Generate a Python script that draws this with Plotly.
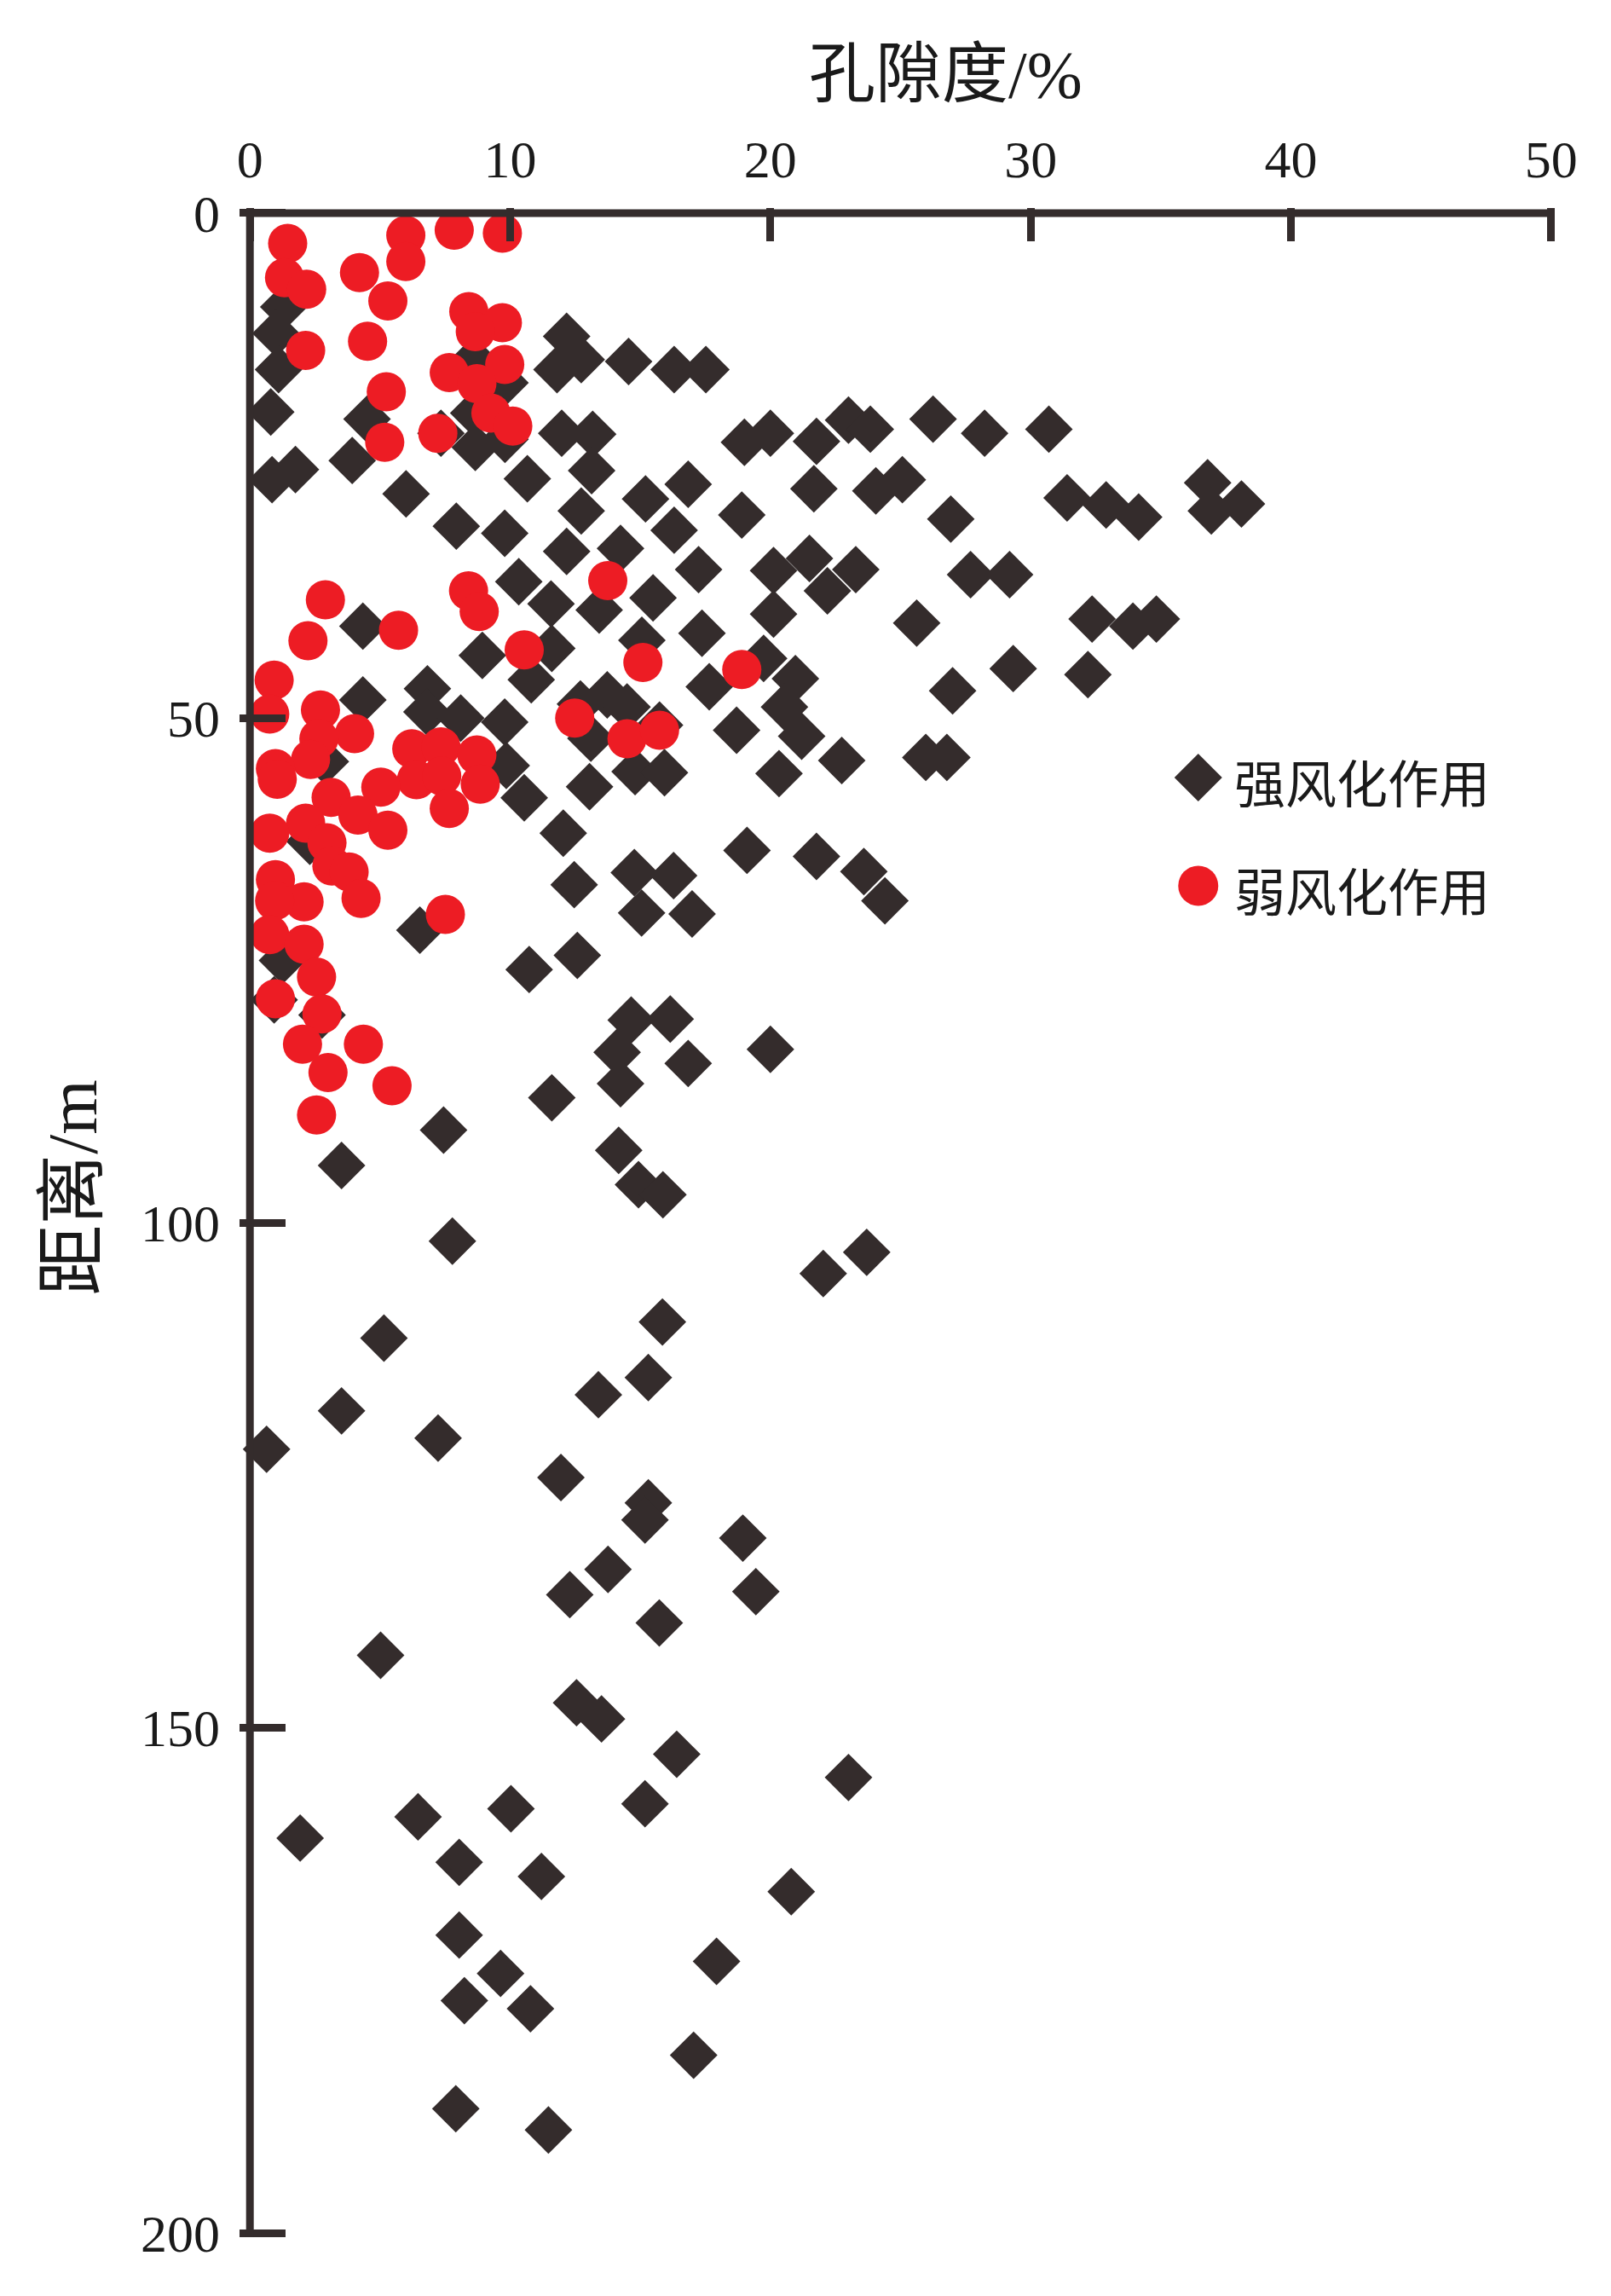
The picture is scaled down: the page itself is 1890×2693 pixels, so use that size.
import plotly.graph_objects as go

# ---- data: 强风化作用 (strong weathering) ----
strong_x = [1.3, 1.0, 1.1, 0.8, 4.5, 0.85, 1.75, 3.93, 6.0, 8.6, 9.8, 8.6, 7.34, 8.66, 9.8,
            12.17, 11.8, 12.73, 14.55, 16.3, 17.52, 11.98, 13.17, 13.13, 10.66, 19.0, 12.73, 15.2,
            16.84, 18.9, 7.93, 9.79, 12.17, 14.24, 16.3, 17.24, 10.33, 11.57, 13.42, 15.49, 17.37,
            4.34, 8.93, 11.6, 15.06, 10.81, 17.65, 6.82, 4.34, 13.73, 12.7, 14.49, 6.8, 8.1, 9.79,
            15.74, 13.1, 2.9, 9.85, 10.54, 13.05, 14.8, 15.93, 18.7, 12.04, 19.1, 12.46, 14.77,
            16.28, 15.05, 16.99, 6.53, 1.25, 10.73, 12.58, 0.93, 2.77, 14.65, 16.15, 14.11, 16.84,
            14.24, 11.6, 7.44, 3.52, 14.17, 14.93, 15.87, 2.3,
            20.0, 21.77, 23.0, 23.84, 26.25, 28.23, 30.7, 21.67, 24.05, 25.07, 26.93, 31.4, 32.9,
            34.15, 36.8, 36.94, 38.1, 20.12, 21.5, 23.28, 22.19, 20.12, 27.69, 29.19, 25.62, 32.36,
            33.93, 34.83, 19.74, 20.96, 20.54, 27.0, 29.33, 32.2,
            21.2, 20.33, 22.74, 25.97, 26.78, 21.77, 23.59, 24.4, 20.0,
            7.78, 22.03, 23.7, 15.85, 5.15, 15.31, 13.39, 3.52, 0.64, 7.23, 11.95, 15.31, 15.18,
            18.94, 13.76, 12.29, 19.44, 15.73, 5.02, 12.55, 13.51, 16.4, 23.0, 15.18, 6.46, 10.03,
            1.93, 8.04, 11.2, 20.8, 8.04, 17.93, 9.63, 8.24, 10.78, 17.05, 7.91, 11.47]
strong_y = [9.3, 11.9, 15.5, 19.7, 20.4, 26.4, 25.4, 24.5, 27.8, 14.5, 16.8, 19.8, 21.8, 23.2, 22.4,
            12.2, 15.5, 14.5, 14.7, 15.5, 15.5, 21.8, 21.9, 25.5, 26.3, 22.7, 29.5, 28.3,
            26.85, 29.9, 31.0, 31.7, 33.5, 33.2, 31.4, 35.3, 36.5, 38.7, 39.3, 38.1, 41.6,
            40.9, 43.8, 43.1, 42.3, 46.2, 46.9, 47.1, 48.2, 47.7, 48.6, 48.9, 49.4, 50.0, 50.4,
            50.7, 52.0, 54.3, 54.7, 57.9, 56.8, 55.3, 55.4, 51.2, 61.4, 63.1, 66.5, 65.3,
            65.6, 69.3, 69.4, 71.0, 74.0, 74.9, 73.5, 77.9, 79.4, 79.9, 79.8, 83.1, 84.2,
            86.2, 87.6, 90.8, 94.3, 92.8, 96.2, 97.2, 62.2,
            21.8, 22.6, 20.5, 21.4, 20.4, 21.8, 21.4, 27.3, 27.5, 26.4, 30.3, 28.2, 28.9,
            30.1, 26.7, 29.5, 28.8, 35.4, 34.2, 35.3, 37.4, 39.7, 35.8, 35.8, 40.6, 40.2,
            40.9, 40.2, 44.1, 46.1, 48.9, 47.3, 45.1, 45.7,
            51.8, 55.5, 54.2, 53.9, 53.9, 63.7, 65.2, 68.1, 82.8,
            101.8, 105.0, 102.9, 109.8, 111.4, 115.3, 117.0, 118.6, 122.4, 121.3, 125.2, 127.7, 129.4,
            131.2, 134.3, 136.8, 136.5, 139.6, 142.8, 147.5, 149.1, 152.6, 154.9, 157.5, 158.8, 158.0,
            160.9, 163.3, 164.7, 166.2, 170.5, 173.1, 174.3, 177.0, 177.8, 182.4, 187.7, 189.8]

# ---- data: 弱风化作用 (weak weathering) ----
weak_x = [1.45, 1.33, 2.18, 4.21, 5.99, 5.99, 7.85, 9.7, 5.3, 8.41, 9.7, 8.66, 2.14, 4.52, 7.66,
          9.79, 8.72, 5.24, 9.26, 10.1, 7.22, 5.18, 2.9, 8.4, 8.81, 13.75, 5.71, 2.23, 10.54, 15.1,
          18.9, 0.93, 0.76, 2.71, 4.02, 2.65, 2.33, 0.98, 1.05, 6.22, 7.34, 8.72, 6.4, 7.37, 8.85,
          7.66, 5.03, 3.12, 4.15, 5.3, 2.14, 0.76, 2.96, 3.15, 3.81, 0.98, 2.08, 0.95, 4.27, 0.76,
          2.08, 2.56, 0.98, 2.77, 2.02, 4.36, 3.0, 5.46, 2.56, 7.51, 12.48, 14.49, 15.74]
weak_y = [3.0, 6.4, 7.55, 5.9, 2.2, 4.8, 1.7, 2.0, 8.7, 9.75, 10.85, 11.75, 13.6, 12.7, 15.8,
          15.0, 16.9, 17.7, 19.8, 21.1, 21.8, 22.7, 38.3, 37.4, 39.45, 36.4, 41.3, 42.35, 43.25, 44.5,
          45.2, 46.25, 49.6, 49.2, 51.55, 52.05, 54.1, 55.0, 56.05, 53.05, 52.85, 53.65, 56.1, 55.75, 56.55,
          58.95, 56.85, 57.85, 59.6, 61.1, 60.4, 61.4, 62.35, 64.65, 65.25, 66.0, 68.2, 68.1, 67.85, 71.45,
          72.4, 75.65, 77.8, 79.3, 82.3, 82.3, 85.1, 86.4, 89.3, 69.45, 50.0, 52.05, 51.2]

x_ticks = [0, 10, 20, 30, 40, 50]
y_ticks = [0, 50, 100, 150, 200]
series_names = ["强风化作用", "弱风化作用"]
x_title = "孔隙度/%"
y_title = "距离/m"

DARK = "#342c2c"
RED = "#ed1c24"
TXT = "#1a1a1a"
SERIF = "Liberation Serif, Times New Roman, Noto Sans CJK SC, serif"
CJK = "Liberation Serif, Noto Sans CJK SC, serif"

W, H = 1890, 2693
PAGE_OFF = 8  # browser default body margin
# page-pixel position of data origin and scales
X0PX, Y0PX = 293.5, 250.0
XS = (1820.0 - X0PX) / 50.0
YS = (2619.0 - Y0PX) / 200.0
XR = [-0.4, 50.4]
YR = [200.5, -0.5]
left_px = X0PX + XR[0] * XS
right_px = X0PX + XR[1] * XS
top_px = Y0PX + YR[1] * YS
bot_px = Y0PX + YR[0] * YS
L = left_px - PAGE_OFF
T = top_px - PAGE_OFF
R = W - (right_px - PAGE_OFF)
B = H - (bot_px - PAGE_OFF)
pw, ph = right_px - left_px, bot_px - top_px

def px2paper(px, py):
    return (px - left_px) / pw, (bot_px - py) / ph

fig = go.Figure()
fig.add_trace(go.Scatter(x=strong_x, y=strong_y, mode="markers", name=series_names[0],
                         marker=dict(symbol="diamond", size=43, color=DARK, line=dict(width=0)),
                         cliponaxis=False, showlegend=False))
fig.add_trace(go.Scatter(x=weak_x, y=weak_y, mode="markers", name=series_names[1],
                         marker=dict(symbol="circle", size=46, color=RED, line=dict(width=0)),
                         cliponaxis=False, showlegend=False))

axis_common = dict(showline=False, ticks="inside", tickwidth=9, tickcolor=DARK,
                   showgrid=False, zeroline=False,
                   tickfont=dict(family=SERIF, size=62, color=TXT))
fig.update_xaxes(range=XR, side="top", tickvals=x_ticks, ticklen=round(283 - top_px),
                 ticklabelstandoff=23, **axis_common)
fig.update_yaxes(range=YR, tickvals=y_ticks, ticklen=round(335 - left_px),
                 ticklabelstandoff=22, **axis_common)

# axis lines (drawn at data origin, like the original)
fig.add_shape(type="line", xref="x", yref="y", x0=0, x1=0, y0=-4.5 / YS, y1=200.4,
              line=dict(color=DARK, width=9))
fig.add_shape(type="line", xref="x", yref="y", x0=-4.5 / XS, x1=50.1, y0=0, y1=0,
              line=dict(color=DARK, width=9))

# axis titles
tx, ty = px2paper(1110, 88)
fig.add_annotation(x=tx, y=ty, xref="paper", yref="paper", text=x_title, showarrow=False,
                   font=dict(family=CJK, size=78, color=TXT), xanchor="center", yanchor="middle")
tx, ty = px2paper(85, 1393)
fig.add_annotation(x=tx, y=ty, xref="paper", yref="paper", text=y_title, showarrow=False,
                   textangle=-90, font=dict(family=CJK, size=83, color=TXT),
                   xanchor="center", yanchor="middle")

# manual legend
cx, cy = px2paper(1406, 912)
hx, hy = 28 / pw, 28 / ph
fig.add_shape(type="path", xref="paper", yref="paper", fillcolor=DARK, line=dict(width=0),
              path=f"M {cx-hx} {cy} L {cx} {cy+hy} L {cx+hx} {cy} L {cx} {cy-hy} Z")
cx2, cy2 = px2paper(1406, 1039)
rx, ry = 23.5 / pw, 23.5 / ph
fig.add_shape(type="circle", xref="paper", yref="paper", fillcolor=RED, line=dict(width=0),
              x0=cx2 - rx, x1=cx2 + rx, y0=cy2 - ry, y1=cy2 + ry)
lx, ly = px2paper(1446, 916)
fig.add_annotation(x=lx, y=ly, xref="paper", yref="paper", text=series_names[0], showarrow=False,
                   font=dict(family="Noto Sans CJK SC", size=60, color=TXT),
                   xanchor="left", yanchor="middle")
lx, ly = px2paper(1446, 1043)
fig.add_annotation(x=lx, y=ly, xref="paper", yref="paper", text=series_names[1], showarrow=False,
                   font=dict(family="Noto Sans CJK SC", size=60, color=TXT),
                   xanchor="left", yanchor="middle")

fig.update_layout(width=W, height=H, margin=dict(l=L, r=R, t=T, b=B, autoexpand=False),
                  paper_bgcolor="white", plot_bgcolor="white", showlegend=False)

fig.write_html("out.html")
